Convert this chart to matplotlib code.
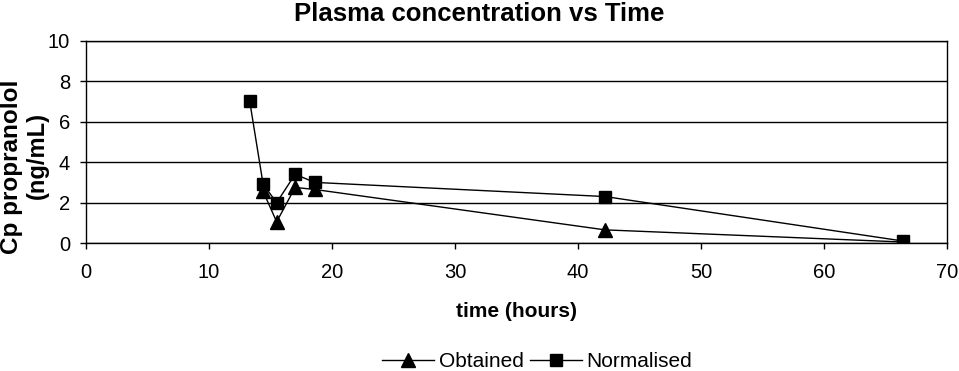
import matplotlib
matplotlib.use("Agg")
import matplotlib.pyplot as plt

plt.rcParams['font.family'] = ['Liberation Sans', 'DejaVu Sans']

# data
time_h = [13.3, 14.4, 15.5, 17.0, 18.6, 42.2, 66.4]
obtained = [None, 2.55, 1.05, 2.75, 2.65, 0.65, 0.05]
normalised = [7.05, 2.9, 2.0, 3.4, 3.0, 2.3, 0.1]

x_ticks = [0, 10, 20, 30, 40, 50, 60, 70]
y_ticks = [0, 2, 4, 6, 8, 10]

fig = plt.figure(figsize=(9.59, 3.71), dpi=100)
ax = fig.add_axes([0.0897, 0.345, 0.8978, 0.5445])

# Obtained has no value at the first time point
ob_t = [t for t, v in zip(time_h, obtained) if v is not None]
ob_v = [v for v in obtained if v is not None]

ax.plot(ob_t, ob_v, color='black', lw=1, marker='^', ms=10,
        label='Obtained', zorder=3)
ax.plot(time_h, normalised, color='black', lw=1, marker='s', ms=9,
        label='Normalised', zorder=3)

ax.set_xlim(0, 70)
ax.set_ylim(0, 10)
ax.set_xticks(x_ticks)
ax.set_yticks(y_ticks)
ax.tick_params(labelsize=14.5, direction='out', length=4.5, width=1)
ax.tick_params(axis='x', pad=10)
ax.tick_params(axis='y', pad=7)
ax.yaxis.grid(True, color='black', lw=1)
ax.set_axisbelow(True)
for s in ax.spines.values():
    s.set_color('black')
    s.set_linewidth(1)

ax.set_xlabel('time (hours)', fontsize=15, fontweight='bold', labelpad=14)
# y label drawn as two lines, placed like in the reference
fig.text(12 / 959, 1 - 167 / 371, 'Cp propranolol', rotation=90,
         fontsize=17.5, fontweight='bold', ha='center', va='center')
fig.text(37 / 959, 1 - 155 / 371, '(ng/mL)', rotation=90,
         fontsize=17, fontweight='bold', ha='center', va='center')
fig.suptitle('Plasma concentration vs Time', fontsize=18.5, fontweight='bold',
             x=0.5, y=0.995)

fig.legend(loc='lower center', bbox_to_anchor=(0.56, -0.05), ncol=2,
           frameon=False, fontsize=15, handlelength=2.5, columnspacing=0.3,
           handletextpad=0.2)

fig.savefig('out.png', dpi=100)
